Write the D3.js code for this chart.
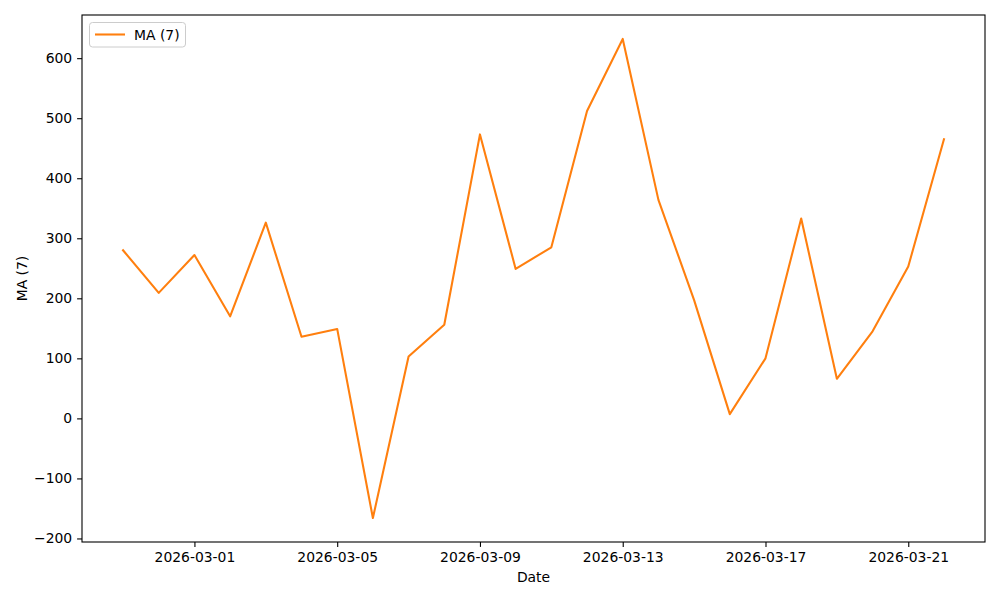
<!DOCTYPE html>
<html>
<head>
<meta charset="utf-8">
<script src="https://cdn.jsdelivr.net/npm/d3@7"></script>
<style>
  body { margin: 0; background: #fff; }
  svg { display: block; }
  text { font-family: "DejaVu Sans", sans-serif; fill: #000; }
</style>
</head>
<body>
<svg id="chart" width="1000" height="600"></svg>
<script>
const dates = ["2026-02-27","2026-02-28","2026-03-01","2026-03-02","2026-03-03","2026-03-04",
  "2026-03-05","2026-03-06","2026-03-07","2026-03-08","2026-03-09","2026-03-10","2026-03-11",
  "2026-03-12","2026-03-13","2026-03-14","2026-03-15","2026-03-16","2026-03-17","2026-03-18",
  "2026-03-19","2026-03-20","2026-03-21","2026-03-22"];
const maValues = [280, 209, 272, 170, 326, 136, 149, -166, 103, 156, 473, 249, 285,
  512, 632, 364, 197, 7, 100, 333, 66, 145, 253, 465];
const xTickLabels = ["2026-03-01","2026-03-05","2026-03-09","2026-03-13","2026-03-17","2026-03-21"];
const yTicks = [-200, -100, 0, 100, 200, 300, 400, 500, 600];
const seriesName = "MA (7)";
const xTitle = "Date";
const yTitle = "MA (7)";

const parse = d3.utcParse("%Y-%m-%d");
const data = dates.map((d, i) => ({ date: parse(d), value: maValues[i] }));

const svg = d3.select("#chart");
const L = 82, T = 15, R = 985, B = 542;
const fs = 13.9;

const xExt = d3.extent(data, d => d.date);
const xPad = (xExt[1] - xExt[0]) * 0.05;
const x = d3.scaleUtc()
  .domain([new Date(+xExt[0] - xPad), new Date(+xExt[1] + xPad)])
  .range([L, R]);

const yExt = d3.extent(data, d => d.value);
const yPad = (yExt[1] - yExt[0]) * 0.05;
const y = d3.scaleLinear()
  .domain([yExt[0] - yPad, yExt[1] + yPad])
  .range([B, T]);

// line
const line = d3.line().x(d => x(d.date)).y(d => y(d.value));
svg.append("path")
  .datum(data)
  .attr("d", line)
  .attr("fill", "none")
  .attr("stroke", "#ff7f0e")
  .attr("stroke-width", 2.08)
  .attr("stroke-linejoin", "round")
  .attr("stroke-linecap", "square");

// axes
const xAxis = d3.axisBottom(x)
  .tickValues(xTickLabels.map(parse))
  .tickFormat(d3.utcFormat("%Y-%m-%d"))
  .tickSize(4.9).tickPadding(4.9);
const gx = svg.append("g").attr("transform", `translate(0,${B})`).call(xAxis);

const yAxis = d3.axisLeft(y)
  .tickValues(yTicks)
  .tickFormat(d3.format("d"))
  .tickSize(4.9).tickPadding(4.9);
const gy = svg.append("g").attr("transform", `translate(${L},0)`).call(yAxis);

[gx, gy].forEach(g => {
  g.select(".domain").remove();
  g.selectAll(".tick line").attr("stroke", "#000").attr("stroke-width", 1.1);
  g.selectAll(".tick text").attr("font-size", fs).attr("font-family", "DejaVu Sans, sans-serif").attr("fill", "#000");
});
gx.selectAll(".tick text").attr("dy", "0.71em");

// spines
svg.append("rect")
  .attr("x", L).attr("y", T).attr("width", R - L).attr("height", B - T)
  .attr("fill", "none").attr("stroke", "#000").attr("stroke-width", 1.1);

// axis titles
svg.append("text")
  .attr("x", (L + R) / 2).attr("y", 582)
  .attr("text-anchor", "middle").attr("font-size", fs)
  .text(xTitle);
svg.append("text")
  .attr("transform", `translate(27,${(T + B) / 2}) rotate(-90)`)
  .attr("text-anchor", "middle").attr("font-size", fs)
  .text(yTitle);

// legend
const lg = svg.append("g");
lg.append("rect")
  .attr("x", 89.5).attr("y", 22.5).attr("width", 96).attr("height", 24.5)
  .attr("rx", 3).attr("ry", 3)
  .attr("fill", "#fff").attr("fill-opacity", 0.8)
  .attr("stroke", "#ccc").attr("stroke-width", 1);
lg.append("line")
  .attr("x1", 95).attr("x2", 125).attr("y1", 34.5).attr("y2", 34.5)
  .attr("stroke", "#ff7f0e").attr("stroke-width", 2.08);
lg.append("text")
  .attr("x", 134).attr("y", 39.5).attr("font-size", fs)
  .text(seriesName);
</script>
</body>
</html>
